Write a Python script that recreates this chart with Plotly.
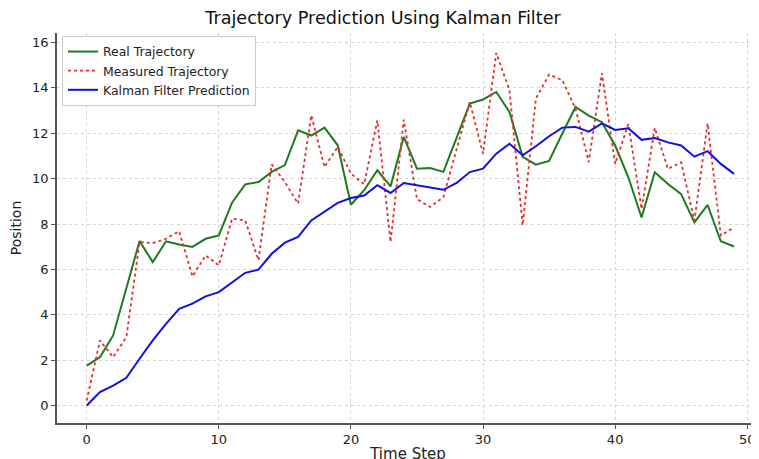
import plotly.graph_objects as go

time_step = list(range(50))

real_trajectory = [1.76, 2.13, 3.09, 5.2, 7.25, 6.32, 7.24, 7.1, 6.99, 7.35,
                   7.5, 8.94, 9.75, 9.85, 10.3, 10.6, 12.13, 11.9, 12.25, 11.47,
                   8.85, 9.49, 10.37, 9.66, 11.84, 10.44, 10.47, 10.3, 11.84, 13.31,
                   13.49, 13.82, 12.94, 10.96, 10.62, 10.78, 11.99, 13.16, 12.78, 12.49,
                   11.46, 10.06, 8.29, 10.28, 9.76, 9.32, 8.07, 8.84, 7.24, 7.01]

measured_trajectory = [0.22, 2.87, 2.13, 3.01, 7.2, 7.16, 7.35, 7.68, 5.69, 6.62,
                       6.18, 8.24, 8.16, 6.4, 10.63, 9.85, 8.9, 12.79, 10.51, 11.4,
                       10.22, 9.75, 12.57, 7.21, 12.6, 9.1, 8.75, 9.19, 11.3, 13.38,
                       11.1, 15.54, 13.9, 7.94, 13.53, 14.59, 14.34, 13.09, 10.73, 14.65,
                       10.65, 12.41, 8.66, 12.24, 10.43, 10.72, 8.15, 12.44, 7.49, 7.85]

kalman_prediction = [0.0, 0.59, 0.88, 1.22, 2.06, 2.87, 3.6, 4.26, 4.49, 4.81,
                     5.0, 5.44, 5.85, 5.99, 6.69, 7.18, 7.43, 8.16, 8.53, 8.93,
                     9.15, 9.26, 9.71, 9.37, 9.81, 9.71, 9.59, 9.51, 9.81, 10.29,
                     10.44, 11.1, 11.54, 11.03, 11.43, 11.87, 12.25, 12.28, 12.07, 12.44,
                     12.15, 12.22, 11.71, 11.79, 11.6, 11.46, 10.97, 11.21, 10.65, 10.21]

x_ticks = [0, 10, 20, 30, 40, 50]
y_ticks = [0, 2, 4, 6, 8, 10, 12, 14, 16]

FONT = "DejaVu Sans"

fig = go.Figure()
fig.add_trace(go.Scatter(x=time_step, y=real_trajectory, mode="lines",
                         name="Real Trajectory",
                         line=dict(color="#1f7a1f", width=2)))
fig.add_trace(go.Scatter(x=time_step, y=measured_trajectory, mode="lines",
                         name="Measured Trajectory",
                         line=dict(color="#e03030", width=1.8, dash="dot")))
fig.add_trace(go.Scatter(x=time_step, y=kalman_prediction, mode="lines",
                         name="Kalman Filter Prediction",
                         line=dict(color="#1010e0", width=2)))

# page has an 8px body margin: figure coordinates = page coordinates - 8
OFF = 8
W, H = 759, 459
L, R, T, B = 57 - OFF, OFF, 33 - OFF, H - (423 - OFF)
PW, PH = W - L - R, H - T - B

fig.update_layout(
    width=W, height=H,
    margin=dict(l=L, r=R, t=T, b=B, autoexpand=False),
    paper_bgcolor="white", plot_bgcolor="white",
    font=dict(family=FONT, size=13, color="#222222"),
    title=dict(text="Trajectory Prediction Using Kalman Filter",
               x=(383 - OFF) / W, xanchor="center", y=1 - (18 - OFF) / H, yanchor="middle",
               font=dict(size=17.6, family=FONT, color="#111111")),
    showlegend=True,
    legend=dict(x=(62 - 57) / PW, y=1 - (36 - 33) / PH,
                xanchor="left", yanchor="top",
                bgcolor="rgba(255,255,255,0.9)", bordercolor="#cccccc", borderwidth=1,
                font=dict(size=12.4, family=FONT, color="#222222"),
                tracegroupgap=0, itemwidth=30),
)

fig.update_xaxes(
    range=[-2.25, 50.89], tickvals=x_ticks, automargin=False,
    showgrid=True, gridcolor="#d4d4d4", griddash="dot", gridwidth=1,
    zeroline=False, showline=True, linecolor="#555555", linewidth=1.5,
    ticks="outside", ticklen=4, tickcolor="#555555",
    tickfont=dict(size=13, family=FONT, color="#222222"),
    title=dict(text="Time Step", font=dict(size=15, family=FONT), standoff=2),
)
fig.update_yaxes(
    range=[-0.77, 16.42], tickvals=y_ticks, automargin=False,
    showgrid=True, gridcolor="#d4d4d4", griddash="dot", gridwidth=1,
    zeroline=False, showline=True, linecolor="#555555", linewidth=1.5,
    ticks="outside", ticklen=4, tickcolor="#555555",
    tickfont=dict(size=13, family=FONT, color="#222222"),
    title=dict(text="Position", font=dict(size=14, family=FONT), standoff=8),
)

fig.write_html("out.html")
